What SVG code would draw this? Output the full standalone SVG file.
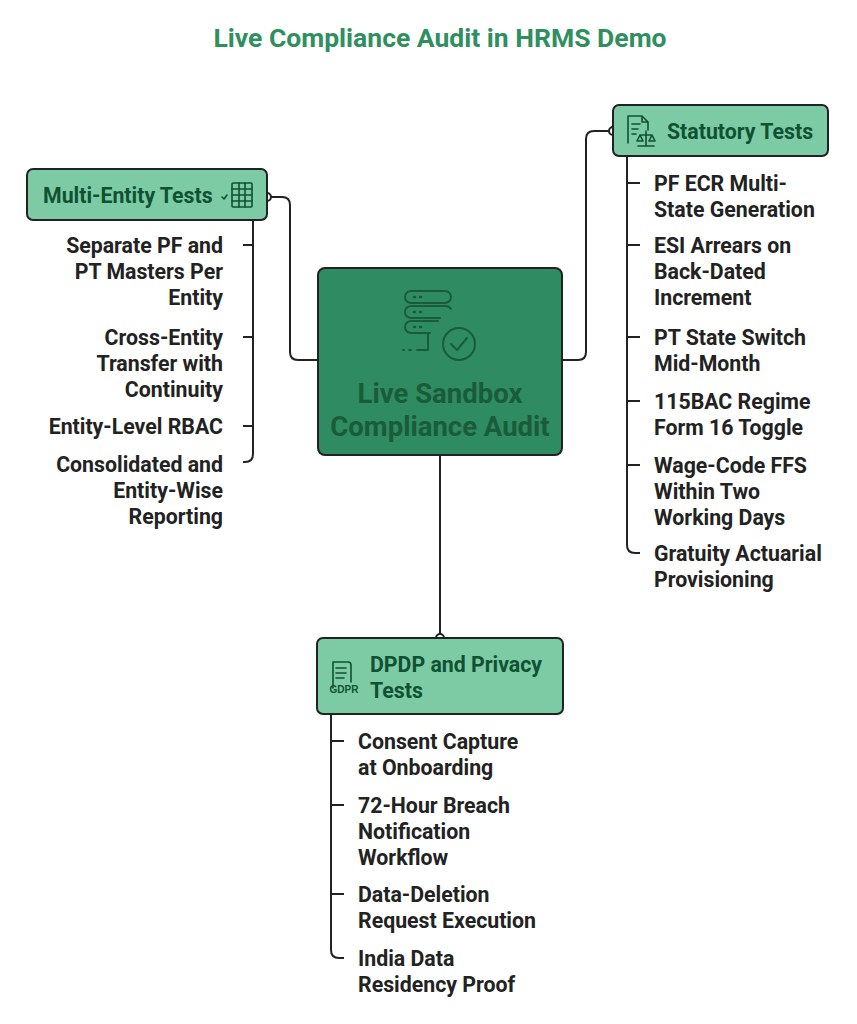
<svg xmlns="http://www.w3.org/2000/svg" width="857" height="1024" viewBox="0 0 857 1024">
<style>
.t{font-family:Roboto,"Liberation Sans",sans-serif;font-weight:bold;font-size:21.3px;fill:#222}
.h{font-family:Roboto,"Liberation Sans",sans-serif;font-weight:bold;font-size:21.3px;fill:#0f5132}
.box{fill:#7dcba5;stroke:#222;stroke-width:2}
.ln{fill:none;stroke:#222;stroke-width:2}
.ic{fill:none;stroke:#0f5132;stroke-width:1.6;stroke-linecap:round;stroke-linejoin:round}
.dot{fill:#fff;stroke:#222;stroke-width:2}
</style>
<rect width="857" height="1024" fill="#fff"/>
<text x="440" y="47" text-anchor="middle" style="font-family:Roboto,'Liberation Sans',sans-serif;font-weight:bold;font-size:26.5px;fill:#2f8f5f">Live Compliance Audit in HRMS Demo</text>
<g id="connectors">
<path class="ln" d="M267 197 H282 Q290 197 290 205 V352 Q290 360 298 360 H318"/>
<path class="ln" d="M562 360 H578 Q586 360 586 352 V139 Q586 131 594 131 H613"/>
<path class="ln" d="M440 455 V638"/>
<path class="ln" d="M253 220 V454 Q253 462 245 462 H243 M243 245 H253 M243 337 H253 M243 426 H253"/>
<path class="ln" d="M627 156 V545 Q627 553 635 553 H640 M627 183 H640 M627 245 H640 M627 337 H640 M627 401 H640 M627 465 H640"/>
<path class="ln" d="M331 714 V950 Q331 958 339 958 H344 M331 741 H344 M331 805 H344 M331 894 H344"/>
<circle class="dot" cx="267" cy="197" r="4"/>
<circle class="dot" cx="613" cy="131" r="4"/>
<circle class="dot" cx="440" cy="638" r="4"/>
</g>
<g id="center">
<rect x="318" y="268" width="244" height="187" rx="7" fill="#2e8b62" stroke="#222" stroke-width="2"/>
<g class="ic" style="stroke:#1a5c3a;stroke-width:2">
<path d="M411 291 H445 A6 6 0 0 1 445 303 H411 A6 6 0 0 1 411 291 Z"/>
<path d="M411 306 H445 A6 6 0 0 1 451 309 M411 306 A6 6 0 0 0 411 318 H440"/>
<path d="M411 321 A6 6 0 0 0 411 333 H430 M411 321 H438"/>
<path d="M428 333 V350 H417 M409 350 H411 M403 350 H404"/>
<circle cx="459" cy="344" r="16"/>
<path d="M451 344 L457 350 L467 338"/>
<path d="M414 297 h1 M420 297 h1 M414 312 h1 M420 312 h1 M414 327 h1 M420 327 h1" stroke-width="2.5"/>
</g>
<text x="440" y="403" text-anchor="middle" style="font-family:Roboto,'Liberation Sans',sans-serif;font-weight:bold;font-size:27.5px;fill:#1a5c3a">Live Sandbox</text>
<text x="440" y="436" text-anchor="middle" style="font-family:Roboto,'Liberation Sans',sans-serif;font-weight:bold;font-size:27.5px;fill:#1a5c3a">Compliance Audit</text>
</g>
<g id="multi-entity">
<rect class="box" x="27" y="169" width="240" height="51" rx="6"/>
<text class="h" x="43" y="203">Multi-Entity Tests</text>
<g class="ic"><path d="M222 197 l2 2 l3 -4"/><rect x="232" y="183" width="20" height="24" rx="1"/><path d="M232 189 H252 M232 195 H252 M232 201 H252 M239 183 V207 M245 183 V207"/></g>
<text class="t" text-anchor="end" x="223" y="253">Separate PF and</text>
<text class="t" text-anchor="end" x="223" y="279">PT Masters Per</text>
<text class="t" text-anchor="end" x="223" y="305">Entity</text>
<text class="t" text-anchor="end" x="223" y="345">Cross-Entity</text>
<text class="t" text-anchor="end" x="223" y="371">Transfer with</text>
<text class="t" text-anchor="end" x="223" y="397">Continuity</text>
<text class="t" text-anchor="end" x="223" y="434">Entity-Level RBAC</text>
<text class="t" text-anchor="end" x="223" y="472">Consolidated and</text>
<text class="t" text-anchor="end" x="223" y="498">Entity-Wise</text>
<text class="t" text-anchor="end" x="223" y="524">Reporting</text>
</g>
<g id="statutory">
<rect class="box" x="613" y="105" width="215" height="51" rx="6"/>
<g class="ic"><path d="M628 143 V116 H642 L648 122 V130 M642 116 V122 H648 M632 124 H640 M632 129 H638 M632 134 H636"/><path d="M646 131 V146 M638 146 H654 M640 135 H652 M640 135 l-3 6 h6 z M652 135 l-3 6 h6 z"/></g>
<text class="h" x="667" y="139">Statutory Tests</text>
<text class="t" x="654" y="191">PF ECR Multi-</text>
<text class="t" x="654" y="217">State Generation</text>
<text class="t" x="654" y="253">ESI Arrears on</text>
<text class="t" x="654" y="279">Back-Dated</text>
<text class="t" x="654" y="305">Increment</text>
<text class="t" x="654" y="345">PT State Switch</text>
<text class="t" x="654" y="371">Mid-Month</text>
<text class="t" x="654" y="409">115BAC Regime</text>
<text class="t" x="654" y="435">Form 16 Toggle</text>
<text class="t" x="654" y="473">Wage-Code FFS</text>
<text class="t" x="654" y="499">Within Two</text>
<text class="t" x="654" y="525">Working Days</text>
<text class="t" x="654" y="561">Gratuity Actuarial</text>
<text class="t" x="654" y="587">Provisioning</text>
</g>
<g id="dpdp">
<rect class="box" x="317" y="638" width="246" height="76" rx="6"/>
<g class="ic"><path d="M333 688 V662 H348 A3 3 0 0 1 351 665 V682 M336 668 H346 M336 673 H346 M336 678 H344"/></g>
<text x="344" y="693" text-anchor="middle" style="font-family:'Liberation Sans',sans-serif;font-weight:bold;font-size:10px;fill:#0f5132">GDPR</text>
<text class="h" x="370" y="672">DPDP and Privacy</text>
<text class="h" x="370" y="698">Tests</text>
<text class="t" x="358" y="749">Consent Capture</text>
<text class="t" x="358" y="775">at Onboarding</text>
<text class="t" x="358" y="813">72-Hour Breach</text>
<text class="t" x="358" y="839">Notification</text>
<text class="t" x="358" y="865">Workflow</text>
<text class="t" x="358" y="902">Data-Deletion</text>
<text class="t" x="358" y="928">Request Execution</text>
<text class="t" x="358" y="966">India Data</text>
<text class="t" x="358" y="992">Residency Proof</text>
</g>
</svg>
